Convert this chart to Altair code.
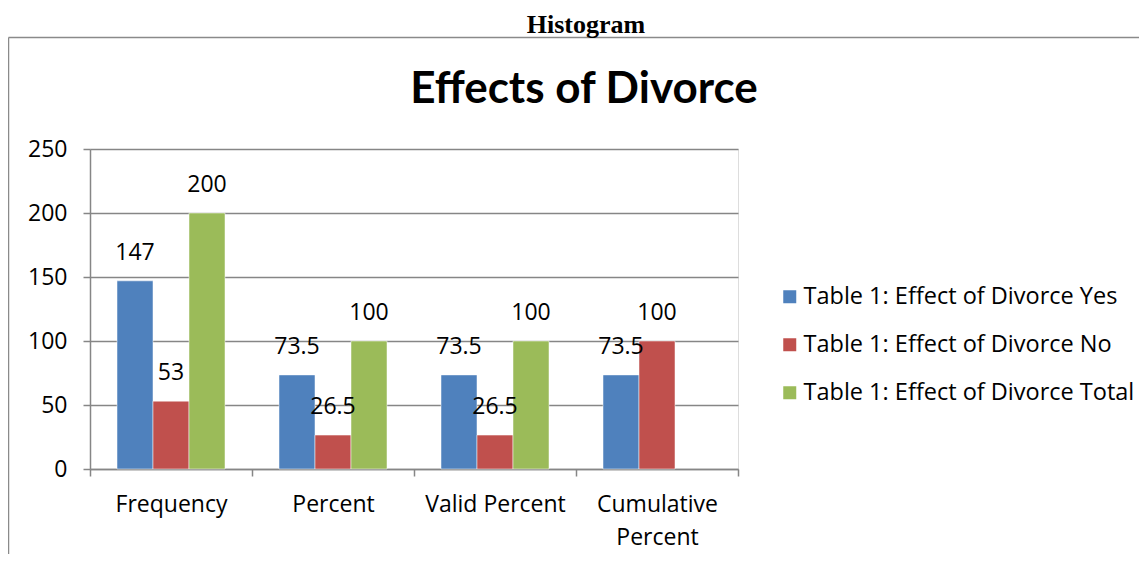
import altair as alt
import pandas as pd

categories = ["Frequency", "Percent", "Valid Percent", "Cumulative Percent"]
series = [
    "Table 1: Effect of Divorce Yes",
    "Table 1: Effect of Divorce No",
    "Table 1: Effect of Divorce Total",
]
yes_values = [147, 73.5, 73.5, 73.5]
no_values = [53, 26.5, 26.5, 100]
total_values = [200, 100, 100, None]
colors = ["#4F81BD", "#C0504D", "#9BBB59"]
y_ticks = [0, 50, 100, 150, 200, 250]

rows = []
for s, vals in zip(series, [yes_values, no_values, total_values]):
    for c, v in zip(categories, vals):
        if v is not None:
            rows.append({"category": c, "series": s, "value": v})
df = pd.DataFrame(rows)

FONT = "Open Sans"
FS = 23
GRID = "#868686"

x_enc = alt.X(
    "category:N",
    sort=categories,
    scale=alt.Scale(paddingInner=0, paddingOuter=0),
    axis=alt.Axis(
        title=None,
        labelAngle=0,
        labelFont=FONT,
        labelFontSize=FS,
        labelColor="#000000",
        labelPadding=17,
        labelLineHeight=33,
        labelExpr="datum.label == 'Cumulative Percent' ? ['Cumulative', 'Percent'] : datum.label",
        domainColor=GRID,
        domainWidth=1.5,
        tickColor=GRID,
        tickWidth=1.5,
        tickSize=7,
        tickBand="extent",
        grid=False,
    ),
)
xoff = alt.XOffset(
    "series:N", sort=series, scale=alt.Scale(domain=series, paddingInner=0, paddingOuter=0.75)
)
y_enc = alt.Y(
    "value:Q",
    scale=alt.Scale(domain=[0, 250], nice=False),
    axis=alt.Axis(
        title=None,
        values=y_ticks,
        labelFont=FONT,
        labelFontSize=FS,
        labelColor="#000000",
        labelPadding=16,
        domainColor=GRID,
        domainWidth=1.5,
        tickColor=GRID,
        tickWidth=1.5,
        tickSize=7,
        gridColor=GRID,
        gridWidth=1.5,
    ),
)

bars = alt.Chart(df).mark_bar(stroke="white", strokeWidth=0.5).encode(
    x=x_enc,
    xOffset=xoff,
    y=y_enc,
    color=alt.Color(
        "series:N",
        sort=series,
        scale=alt.Scale(domain=series, range=colors),
        legend=alt.Legend(
            title=None,
            orient="none",
            legendX=688,
            legendY=136,
            symbolType="square",
            symbolSize=169,
            symbolStrokeWidth=0,
            labelFont=FONT,
            labelFontSize=23.5,
            labelColor="#000000",
            labelOffset=2,
            rowPadding=23,
            labelLimit=500,
        ),
    ),
)

labels = alt.Chart(df).mark_text(
    font=FONT, fontSize=FS, color="#000000", baseline="middle", dy=-28
).encode(
    x=alt.X("category:N", sort=categories),
    xOffset=alt.XOffset("series:N", sort=series),
    y="value:Q",
    text=alt.Text("value:Q"),
)

one = alt.Data(values=[{"k": 1}])
title1 = alt.Chart(one).mark_text(
    font="Liberation Serif", fontSize=26, fontWeight="bold", color="#000000", baseline="middle"
).encode(x=alt.value(496), y=alt.value(-124), text=alt.value("Histogram"))
title2 = alt.Chart(one).mark_text(
    font="Lato", fontSize=44, fontWeight="bold", color="#000000", baseline="middle"
).encode(x=alt.value(494), y=alt.value(-59), text=alt.value("Effects of Divorce"))

frame_top = alt.Chart(one).mark_rule(color="#8a8a8a", strokeWidth=1.5).encode(
    x=alt.value(-81.5), x2=alt.value(1060), y=alt.value(-111.5)
)
frame_left = alt.Chart(one).mark_rule(color="#8a8a8a", strokeWidth=1.5).encode(
    x=alt.value(-81.5), y=alt.value(-111.5), y2=alt.value(420)
)

chart = (
    alt.layer(frame_top, frame_left, bars, labels, title1, title2)
    .properties(
        width=648,
        height=320,
        autosize=alt.AutoSizeParams(type="none"),
        padding={"left": 82, "top": 141, "right": 401, "bottom": 85},
    )
    .configure_view(stroke=None)
    .configure(background="white")
)

chart.save("out.html", embed_options={"renderer": "svg", "actions": False})
